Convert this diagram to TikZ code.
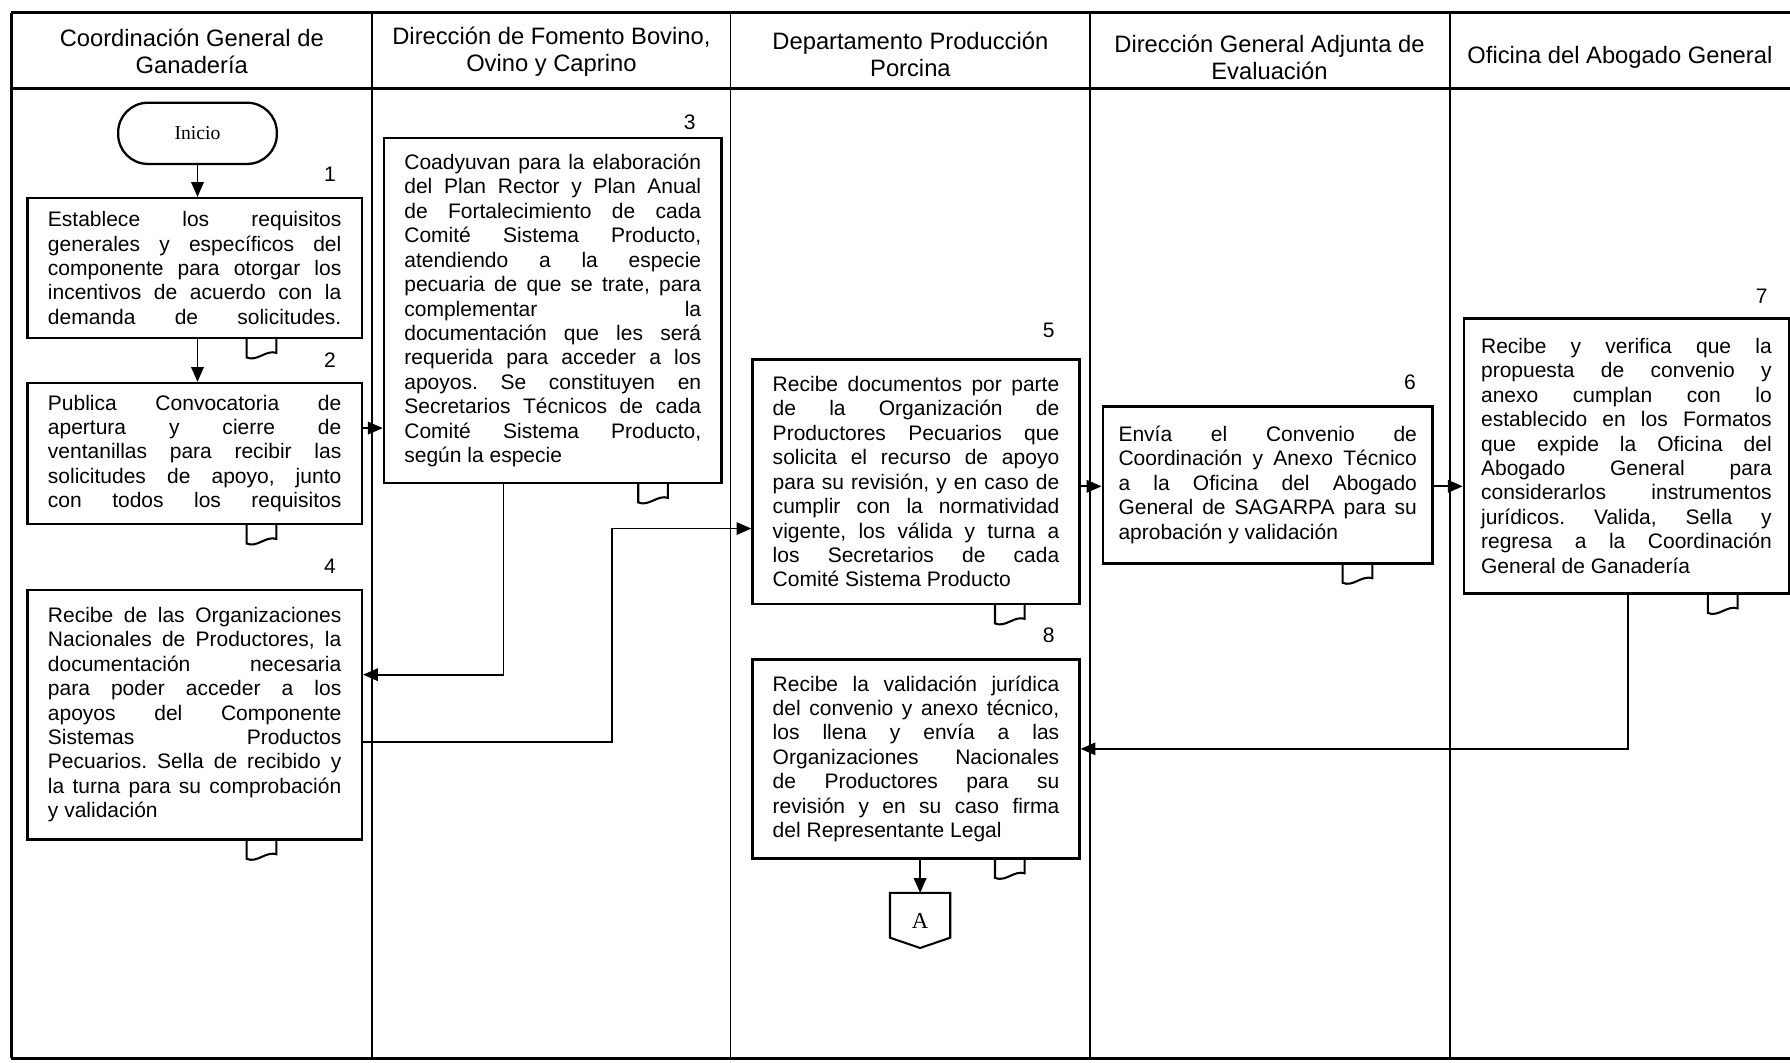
\documentclass[tikz,border=0pt]{standalone}
\usepackage{fontspec}
\setmainfont{Liberation Sans}
\newfontfamily\serifletter{Liberation Serif}
\usepackage{tikz}
\usetikzlibrary{arrows.meta}
\tolerance=10000
\hbadness=10000
\frenchspacing

% small document symbol under a box
\newcommand{\doctag}[2]{%
	\begin{scope}[shift={(#1.south east)}, xshift=#2]
		\draw[docline] (0,0) -- (0,16) .. controls (9,20) and (17,9) .. (26,12) -- (26,0);
	\end{scope}}

\begin{document}
\begin{tikzpicture}[x=0.5pt, y=-0.5pt,
	task/.style={draw, line width=1.1pt, align=justify, inner sep=0pt, font=\fontsize{9.2}{10.7}\selectfont},
	num/.style={inner sep=0pt, font=\fontsize{9.2}{10.7}\selectfont},
	head/.style={align=center, font=\fontsize{10.4}{11.7}\selectfont},
	arr/.style={line width=0.75pt, -{Triangle[length=6.5pt, width=5.5pt]}},
	docline/.style={line width=0.9pt},
	lane/.style={line width=0.7pt},
	tableline/.style={line width=1.1pt}]
		\useasboundingbox (0,0) rectangle (1568,931);
		
		% draw table frame
		\draw[tableline] (10,11) -- (1568,11);
		\draw[tableline] (10,77.5) -- (1568,77.5);
		\draw[tableline] (10,927) -- (1568,927);
		\draw[tableline] (10,11) -- (10,927);
		
		% draw lane lines
		\foreach \x in {325.6,640,954.8,1270}
		\draw[lane] (\x,11) -- (\x,927);
		
		% draw lane headers
		\node[head] (h1) at (168,45) {Coordinación General de\\Ganadería};
		\node[head] (h2) at (483,45) {Dirección de Fomento Bovino,\\Ovino y Caprino};
		\node[head] (h3) at (797.5,47.5) {Departamento Producción\\Porcina};
		\node[head] (h4) at (1112,50) {Dirección General Adjunta de\\Evaluación};
		\node[head] (h5) at (1419,50) {Oficina del Abogado General};
		
		% draw start
		\node[draw, line width=1pt, rounded corners=13pt, minimum width=69.5pt, minimum height=26.8pt, font=\serifletter\fontsize{8.6}{10}\selectfont] (inicio) at (173,116.8) {Inicio};
		
		% draw steps
		\node[task, minimum width=146.5pt, minimum height=61.2pt, text width=128.5pt] (b1) at (170.5,234.8) {\parfillskip=0pt Establece los requisitos\linebreak generales y específicos del\linebreak componente para otorgar los\linebreak incentivos de acuerdo con la\linebreak demanda de solicitudes.\par};
		\node[task, minimum width=146.5pt, minimum height=61.7pt, text width=128.5pt] (b2) at (170.5,397.3) {\parfillskip=0pt Publica Convocatoria de\linebreak apertura y cierre de\linebreak ventanillas para recibir las\linebreak solicitudes de apoyo, junto\linebreak con todos los requisitos\par};
		\node[task, minimum width=147.8pt, minimum height=151pt, text width=130pt] (b3) at (484.2,272) {Coadyuvan para la elaboración\linebreak del Plan Rector y Plan Anual\linebreak de Fortalecimiento de cada\linebreak Comité Sistema Producto,\linebreak atendiendo a la especie\linebreak pecuaria de que se trate, para\linebreak complementar la\linebreak documentación que les será\linebreak requerida para acceder a los\linebreak apoyos. Se constituyen en\linebreak Secretarios Técnicos de cada\linebreak Comité Sistema Producto,\linebreak según la especie};
		\node[task, minimum width=146.5pt, minimum height=109.2pt, text width=128.5pt] (b4) at (170.5,626) {Recibe de las Organizaciones\linebreak Nacionales de Productores, la\linebreak documentación necesaria\linebreak para poder acceder a los\linebreak apoyos del Componente\linebreak Sistemas Productos\linebreak Pecuarios. Sella de recibido y\linebreak la turna para su comprobación\linebreak y validación};
		\node[task, minimum width=143.1pt, minimum height=107.1pt, text width=125.5pt] (b5) at (802.4,421.9) {Recibe documentos por parte\linebreak de la Organización de\linebreak Productores Pecuarios que\linebreak solicita el recurso de apoyo\linebreak para su revisión, y en caso de\linebreak cumplir con la normatividad\linebreak vigente, los válida y turna a\linebreak los Secretarios de cada\linebreak Comité Sistema Producto};
		\node[task, minimum width=144.5pt, minimum height=68.7pt, text width=130.7pt] (b6) at (1110.5,424.7) {Envía el Convenio de\linebreak Coordinación y Anexo Técnico\linebreak a la Oficina del Abogado\linebreak General de SAGARPA para su\linebreak aprobación y validación};
		\node[task, minimum width=142.3pt, minimum height=120.5pt, text width=127.3pt] (b7) at (1424.7,399.3) {Recibe y verifica que la\linebreak propuesta de convenio y\linebreak anexo cumplan con lo\linebreak establecido en los Formatos\linebreak que expide la Oficina del\linebreak Abogado General para\linebreak considerarlos instrumentos\linebreak jurídicos. Valida, Sella y\linebreak regresa a la Coordinación\linebreak General de Ganadería};
		\node[task, minimum width=143.1pt, minimum height=87.2pt, text width=125.5pt] (b8) at (802.4,664.7) {Recibe la validación jurídica\linebreak del convenio y anexo técnico,\linebreak los llena y envía a las\linebreak Organizaciones Nacionales\linebreak de Productores para su\linebreak revisión y en su caso firma\linebreak del Representante Legal};
		
		% draw step numbers
		\node[num] (n1) at ([shift={(-29,-20)}]b1.north east) {1};
		\node[num] (n2) at ([shift={(-29,-19)}]b2.north east) {2};
		\node[num] (n3) at ([shift={(-29,-13)}]b3.north east) {3};
		\node[num] (n4) at ([shift={(-29,-20)}]b4.north east) {4};
		\node[num] (n5) at ([shift={(-28,-24)}]b5.north east) {5};
		\node[num] (n6) at ([shift={(-21,-20)}]b6.north east) {6};
		\node[num] (n7) at ([shift={(-25,-18)}]b7.north east) {7};
		\node[num] (n8) at ([shift={(-28,-20)}]b8.north east) {8};
		
		% draw document marks
		\doctag{b1}{-51pt}
		\doctag{b2}{-51pt}
		\doctag{b3}{-37pt}
		\doctag{b4}{-51pt}
		\doctag{b5}{-37.5pt}
		\doctag{b6}{-40pt}
		\doctag{b7}{-36pt}
		\doctag{b8}{-37.5pt}
		
		% draw connector A
		\node[inner sep=0pt, minimum width=26pt, minimum height=23.7pt, font=\serifletter\fontsize{10}{12}\selectfont] (conA) at (806,806.3) {A};
		\draw[line width=0.9pt] (conA.north west) -- (conA.north east) -- ([yshift=4.5pt]conA.south east) -- (conA.south) -- ([yshift=4.5pt]conA.south west) -- cycle;
		
		% draw bend points
		\coordinate (k2) at (0,375);
		\coordinate (k3) at (441,591);
		\coordinate (k4) at (536,650);
		\coordinate (k5) at (536,463);
		\coordinate (k6) at (0,426);
		\coordinate (k7) at (1426,656);
		
		% draw arrows
		\draw[arr] (inicio.south) -- (inicio.south |- b1.north);
		\draw[arr] (b1.south -| inicio) -- (b2.north -| inicio);
		\draw[arr] (b2.east |- k2) -- (b3.west |- k2);
		\draw[arr] (b3.south -| k3) |- (b4.east |- k3);
		\draw[arr] (b4.east |- k4) -| (k5) -- (b5.west |- k5);
		\draw[arr] (b5.east |- k6) -- (b6.west |- k6);
		\draw[arr] (b6.east |- k6) -- (b7.west |- k6);
		\draw[arr] (b7.south -| k7) |- (b8.east |- k7);
		\draw[arr] (b8.south -| conA) -- (conA.north);
		
\end{tikzpicture}
\end{document}
